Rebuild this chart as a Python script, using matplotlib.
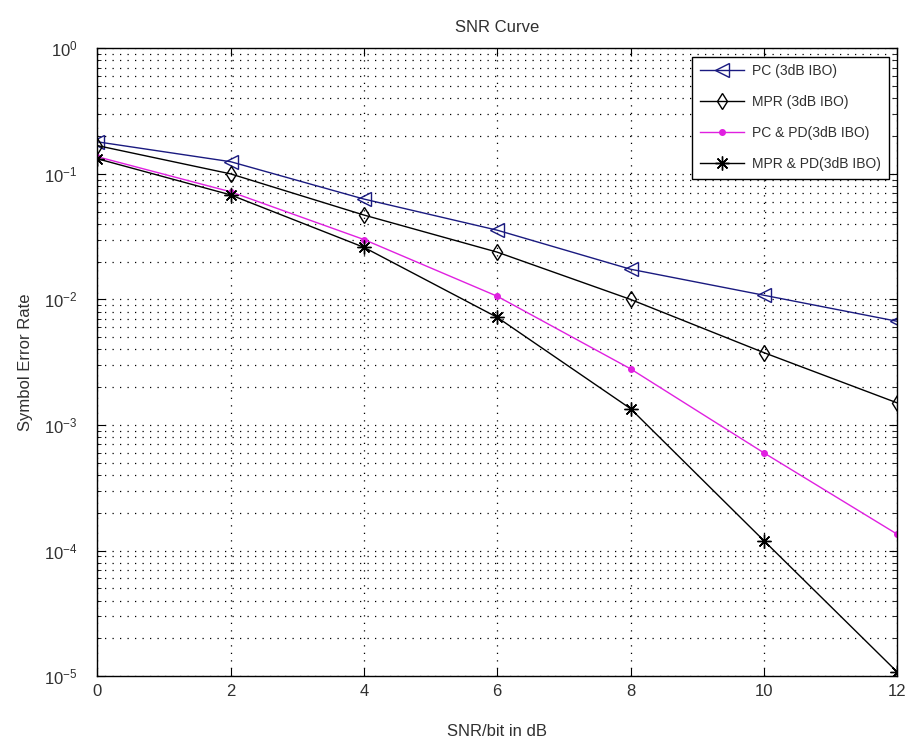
import matplotlib.pyplot as plt
from matplotlib import font_manager

# SNR values (dB) and symbol error rates
snr = [0, 2, 4, 6, 8, 10, 12]
ser_pc = [0.180, 0.125, 0.063, 0.0356, 0.0174, 0.0108, 0.0067]
ser_mpr = [0.168, 0.100, 0.047, 0.0238, 0.0100, 0.00377, 0.00150]
ser_pc_pd = [0.137, 0.072, 0.030, 0.0106, 0.00280, 0.00060, 0.000135]
ser_mpr_pd = [0.132, 0.068, 0.026, 0.0072, 0.00135, 0.000120, 1.08e-5]

labels = ["PC (3dB IBO)", "MPR (3dB IBO)", "PC & PD(3dB IBO)", "MPR & PD(3dB IBO)"]

plt.rcParams['font.family'] = ['Liberation Sans', 'DejaVu Sans']
plt.rcParams['font.size'] = 11.5
text_color = '#303030'
dots = (0, (1, 5))

# narrow face for the legend if it is there
installed = {f.name for f in font_manager.fontManager.ttflist}
legend_family = 'Liberation Sans Narrow' if 'Liberation Sans Narrow' in installed else 'Liberation Sans'
legend_size = 11 if legend_family == 'Liberation Sans Narrow' else 10

fig = plt.figure(figsize=(9.09, 7.43), dpi=100)
ax = fig.add_axes([0.107, 0.090, 0.880, 0.845])

ax.semilogy(snr, ser_pc, color='#1a1a80', marker='<', markersize=10,
            markerfacecolor='none', linewidth=1.0, label=labels[0])
ax.semilogy(snr, ser_mpr, color='black', marker='d', markersize=8,
            markerfacecolor='none', linewidth=1.0, label=labels[1])
ax.semilogy(snr, ser_pc_pd, color='#e020e0', marker='.', markersize=8,
            linewidth=1.0, label=labels[2])
ax.semilogy(snr, ser_mpr_pd, color='black', marker=(8, 2, 0), markersize=10,
            markeredgewidth=1.0, linewidth=1.0, label=labels[3])

ax.set_xlim(0, 12)
ax.set_ylim(1e-5, 1)
ax.set_xticks(range(0, 13, 2))

ax.grid(True, which='major', linestyle=dots, color='black', linewidth=0.9)
ax.grid(True, which='minor', axis='y', linestyle=dots, color='black', linewidth=0.9)
ax.tick_params(which='both', direction='in', top=True, right=True, colors='black',
               labelcolor=text_color, labelsize=12)
ax.tick_params(which='major', length=6)
ax.tick_params(which='minor', length=3)
ax.tick_params(axis='y', which='major', pad=14)
ax.tick_params(axis='x', which='major', pad=6)
for s in ax.spines.values():
    s.set_linewidth(1.0)

ax.set_title('SNR Curve', color=text_color, fontsize=12, pad=12)
ax.set_xlabel('SNR/bit in dB', color=text_color, fontsize=12, labelpad=18)
ax.set_ylabel('Symbol Error Rate', color=text_color, fontsize=12, labelpad=8)

leg = ax.legend(loc='upper right', fancybox=False, framealpha=1, edgecolor='black',
                prop={'family': legend_family, 'size': legend_size},
                borderaxespad=0.6, handlelength=3.2, handletextpad=0.6,
                labelspacing=1.22, borderpad=0.55)
for t in leg.get_texts():
    t.set_color(text_color)

fig.savefig('out.png', dpi=100)
